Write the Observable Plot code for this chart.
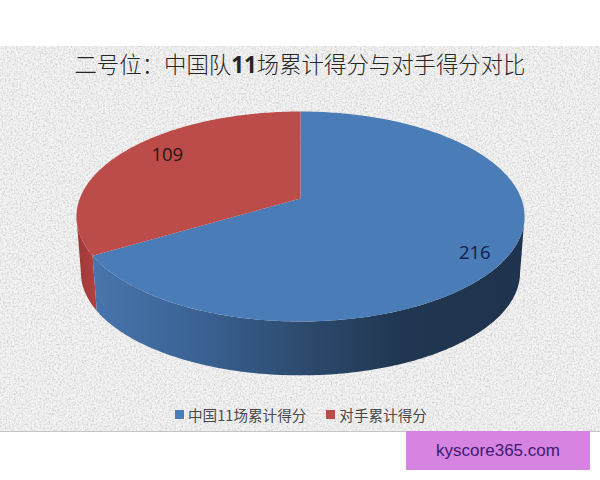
<!DOCTYPE html>
<html lang="zh">
<head>
<meta charset="utf-8">
<script src="https://cdn.jsdelivr.net/npm/d3@7"></script>
<script src="https://cdn.jsdelivr.net/npm/@observablehq/plot@0.6"></script>
<style>
  html,body{margin:0;padding:0;background:#fff;}
  #page{position:relative;width:600px;height:480px;overflow:hidden;font-family:"Noto Sans CJK SC",sans-serif;}
  #panel{position:absolute;left:0;top:46px;width:600px;height:386px;border-bottom:1px solid #c6c6c6;box-sizing:border-box;
    background-color:#ececec;
    background-image:url("data:image/svg+xml,%3Csvg xmlns='http://www.w3.org/2000/svg' width='600' height='386'%3E%3Cfilter id='n' x='0' y='0' width='100%25' height='100%25'%3E%3CfeTurbulence type='fractalNoise' baseFrequency='0.55' numOctaves='3' seed='4'/%3E%3CfeGaussianBlur stdDeviation='0.45'/%3E%3CfeColorMatrix values='0 0 0 0 0 0 0 0 0 0 0 0 0 0 0 2.2 0 0 0 -0.9'/%3E%3C/filter%3E%3Crect width='600' height='386' fill='%23f3f3f3'/%3E%3Crect width='600' height='386' filter='url(%23n)' opacity='0.14' fill='black'/%3E%3C/svg%3E");}
  #title{position:absolute;left:0;top:1px;width:600px;text-align:center;font-size:22.4px;line-height:32px;color:#262626;font-weight:300;white-space:nowrap;}
  #title b{font-weight:700;font-family:"Open Sans",sans-serif;}
  #chart{position:absolute;left:0;top:44px;}
  #legend{position:absolute;left:175px;top:357px;height:22px;display:flex;align-items:center;font-size:14.6px;color:#4a4a4a;white-space:nowrap;}
  #legend i{display:inline-block;width:9px;height:9px;margin-right:4px;}
  #legend span.item{margin-right:20px;display:flex;align-items:center;}
  #mark{position:absolute;left:406px;top:431px;width:184px;height:39px;background:#d683e2;color:#3f1a72;text-align:center;font:17px/39px "Liberation Sans",sans-serif;}
  svg{background:transparent!important;}
</style>
</head>
<body>
<div id="page">
  <div id="panel">
    <div id="title">二号位：中国队<b>11</b>场累计得分与对手得分对比</div>
    <div id="chart"></div>
    <div id="legend"></div>
  </div>
  <div id="mark">kyscore365.com</div>
</div>
<script>
const categories = ["中国11场累计得分", "对手累计得分"];
const values = [216, 109];
const colors = ["#4a7cb7", "#bb4c49"];
const labelText = ["216", "109"];

// Tilted-disc projection used for the pie's rim
const persp = 0.171;
const depthY = -0.533, depthScale = 0.98;
const total = d3.sum(values);
const cum = d3.cumsum(values);
const ends = Array.from(cum, v => v / total * 360);
const starts = [0, ends[0]];
const rad = d => d * Math.PI / 180;
function rim(deg, r = 1) {
  const u = r * Math.sin(rad(deg)), v = r * Math.cos(rad(deg));
  const w = 1 + persp * v;
  return {x: u / w, y: (v + persp) / w};
}
function bottom(deg) {
  const p = rim(deg);
  return {x: p.x * depthScale, y: p.y * depthScale + depthY};
}
const sweep = (a, b, f) => {
  const n = Math.max(2, Math.ceil(Math.abs(b - a)));
  return d3.range(n + 1).map(i => f(a + (b - a) * i / n));
};
const faces = categories.flatMap((c, i) => [
  {...rim(0, 0), team: c},
  ...sweep(starts[i], ends[i], d => ({...rim(d), team: c}))
]);
const wall = (a, b) => [...sweep(a, b, d => rim(d)), ...sweep(b, a, d => bottom(d))];
// walls stop where the rim turns behind the disc
const wallBlue = wall(100, ends[0]);
const wallRed = wall(ends[0], 260);
const labels = categories.map((c, i) => {
  const mid = (starts[i] + ends[i]) / 2;
  return {...rim(mid, i ? 0.72 : 0.83), text: labelText[i]};
});

const gradients = () => d3.create("svg:defs").html(`
  <linearGradient id="wallBlue" x1="0" x2="1" y1="0" y2="0">
    <stop offset="0" stop-color="#4875ad"/><stop offset="0.24" stop-color="#3a6394"/>
    <stop offset="0.48" stop-color="#2d4b6f"/><stop offset="0.72" stop-color="#203651"/><stop offset="1" stop-color="#1f334e"/>
  </linearGradient>
  <linearGradient id="wallRed" x1="0" x2="1" y1="0" y2="0">
    <stop offset="0" stop-color="#9a3a38"/><stop offset="1" stop-color="#b5403d"/>
  </linearGradient>`).node();

const labelMark = (i, dx, dy, fill) => Plot.text(labels.slice(i, i + 1), {x: "x", y: "y", text: "text", dx, dy,
  fontSize: 18.5, fontFamily: "Open Sans, sans-serif", fill});

const plot = Plot.plot({
  width: 600, height: 298,
  margin: 0,
  style: {background: "transparent"},
  x: {domain: [-1.359, 1.359], range: [0, 600], axis: null},
  y: {domain: [-1.638, 1.2], range: [298, 0], axis: null},
  color: {domain: categories, range: colors},
  marks: [
    gradients,
    Plot.line(wallRed, {x: "x", y: "y", fill: "url(#wallRed)", stroke: "none"}),
    Plot.line(wallBlue, {x: "x", y: "y", fill: "url(#wallBlue)", stroke: "none"}),
    Plot.line(faces, {x: "x", y: "y", z: "team", fill: "team", stroke: "none"}),
    labelMark(0, 3, 10, "#10204a"),
    labelMark(1, -3, -9, "#2b1414")
  ]
});
document.getElementById("chart").appendChild(plot);

const legend = d3.select("#legend");
categories.forEach((c, i) => {
  const item = legend.append("span").attr("class", "item");
  item.append("i").style("background", colors[i]);
  item.append("span").text(c);
});
</script>
</body>
</html>
